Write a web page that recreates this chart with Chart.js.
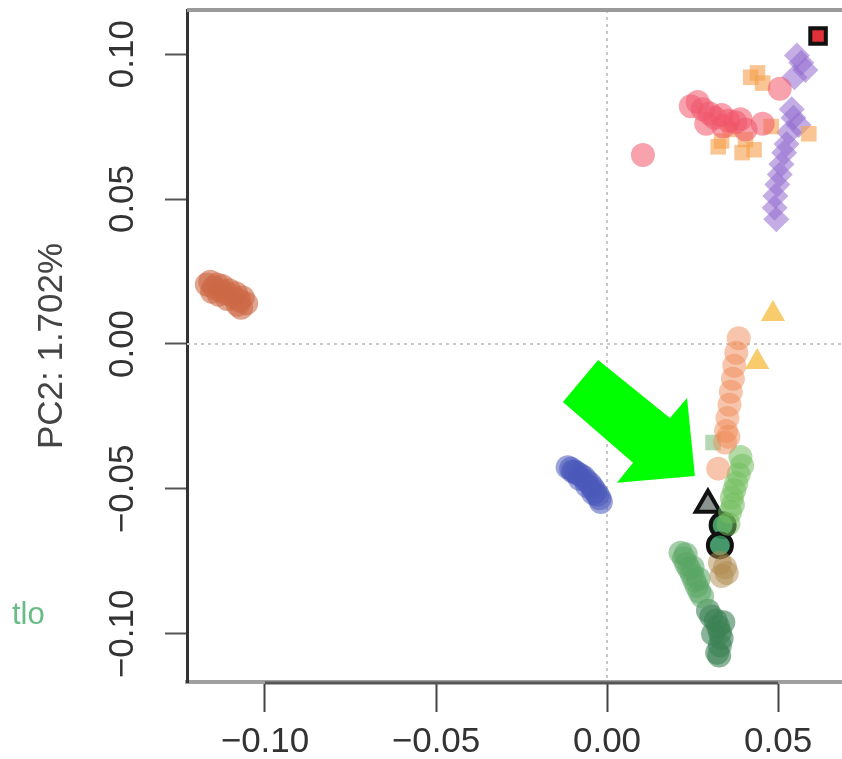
<!DOCTYPE html>
<html>
<head>
<meta charset="utf-8">
<script src="https://cdn.jsdelivr.net/npm/chart.js@4.4.0/dist/chart.umd.min.js"></script>
<style>
body { margin: 0; background: #fff; }
#wrap { width: 842px; height: 759px; position: relative; }
</style>
</head>
<body>
<div id="wrap"><canvas id="pca"></canvas></div>
<script>
// axis ticks / title
const xTicks = [-0.10, -0.05, 0.00, 0.05];
const yTicks = [-0.10, -0.05, 0.00, 0.05, 0.10];
const yTitle = 'PC2: 1.702%';
const sideText = 'tlo';

// point groups (PC1, PC2)
const brownX = [-0.1170, -0.1160, -0.1150, -0.1140, -0.1130, -0.1125, -0.1115, -0.1105, -0.1095, -0.1085, -0.1075, -0.1065, -0.1055, -0.1155, -0.1135, -0.1110, -0.1080, -0.1070];
const brownY = [0.0205, 0.0215, 0.0195, 0.0205, 0.0185, 0.0200, 0.0175, 0.0185, 0.0165, 0.0175, 0.0150, 0.0160, 0.0140, 0.0180, 0.0170, 0.0155, 0.0135, 0.0125];

const blueX = [-0.0115, -0.0105, -0.0095, -0.0088, -0.0078, -0.0068, -0.0060, -0.0050, -0.0042, -0.0035, -0.0028, -0.0022, -0.0018, -0.0100, -0.0080, -0.0058, -0.0040];
const blueY = [-0.0425, -0.0430, -0.0440, -0.0445, -0.0452, -0.0460, -0.0472, -0.0482, -0.0495, -0.0508, -0.0520, -0.0532, -0.0545, -0.0440, -0.0465, -0.0490, -0.0515];

const redX = [0.0105, 0.0245, 0.0265, 0.0280, 0.0300, 0.0315, 0.0335, 0.0355, 0.0375, 0.0390, 0.0405, 0.0455, 0.0505, 0.0290, 0.0340];
const redY = [0.0652, 0.0820, 0.0835, 0.0810, 0.0795, 0.0780, 0.0790, 0.0770, 0.0765, 0.0775, 0.0740, 0.0760, 0.0880, 0.0760, 0.0750];

const orangeX = [0.0420, 0.0440, 0.0455, 0.0325, 0.0335, 0.0430, 0.0590, 0.0480, 0.0405, 0.0360, 0.0395];
const orangeY = [0.0920, 0.0935, 0.0900, 0.0680, 0.0700, 0.0670, 0.0725, 0.0750, 0.0705, 0.0740, 0.0660];

const purpleX = [0.0555, 0.0568, 0.0580, 0.0548, 0.0540, 0.0545, 0.0532, 0.0525, 0.0518, 0.0510, 0.0505, 0.0498, 0.0492, 0.0490, 0.0495, 0.0560];
const purpleY = [0.0995, 0.0970, 0.0945, 0.0920, 0.0810, 0.0780, 0.0730, 0.0690, 0.0660, 0.0620, 0.0585, 0.0550, 0.0510, 0.0470, 0.0430, 0.0755];

const markedSqX = [0.0617];
const markedSqY = [0.1062];

const yellowX = [0.0485, 0.0439];
const yellowY = [0.0103, -0.0062];

const salmonX = [0.0385, 0.0378, 0.0372, 0.0368, 0.0362, 0.0358, 0.0352, 0.0348, 0.0345, 0.0355, 0.0325];
const salmonY = [0.0020, -0.0030, -0.0075, -0.0120, -0.0165, -0.0210, -0.0255, -0.0300, -0.0340, -0.0320, -0.0430];

const paleSqX = [0.0310];
const paleSqY = [-0.0340];

const lgreenX = [0.0390, 0.0395, 0.0385, 0.0378, 0.0372, 0.0365, 0.0368, 0.0360, 0.0355];
const lgreenY = [-0.0390, -0.0420, -0.0450, -0.0480, -0.0505, -0.0530, -0.0555, -0.0580, -0.0620];

const oliveX = [0.0330, 0.0345, 0.0335, 0.0350];
const oliveY = [-0.0755, -0.0770, -0.0800, -0.0790];

const mgreenX = [0.0215, 0.0225, 0.0232, 0.0240, 0.0248, 0.0255, 0.0262, 0.0270, 0.0278, 0.0230, 0.0250, 0.0268];
const mgreenY = [-0.0720, -0.0740, -0.0760, -0.0775, -0.0795, -0.0815, -0.0835, -0.0855, -0.0870, -0.0725, -0.0770, -0.0810];

const dgreenX = [0.0295, 0.0305, 0.0318, 0.0325, 0.0330, 0.0335, 0.0330, 0.0322, 0.0340, 0.0310, 0.0328];
const dgreenY = [-0.0920, -0.0940, -0.0955, -0.0975, -0.0995, -0.1015, -0.1040, -0.1065, -0.0960, -0.1000, -0.1075];

const markedTriX = [0.0295];
const markedTriY = [-0.0555];
const markedCircX = [0.0338, 0.0330];
const markedCircY = [-0.0625, -0.0695];

// green arrow annotation, in data units
const arrowX = [-0.0026, 0.0184, 0.0234, 0.0257, 0.0029, 0.0076, -0.0129];
const arrowY = [-0.0055, -0.0255, -0.0186, -0.0455, -0.0479, -0.0410, -0.0200];

function pts(xs, ys) {
    let out = [];
    for (let i = 0; i < xs.length; i++) {
        out.push({ x: xs[i], y: ys[i] });
    }
    return out;
}

function grp(xs, ys, color, style, border, bw) {
    let r = 12;
    if (style === 'triangle') r = 14;
    if (style === 'rect') r = 11;
    if (style === 'rectRot') r = 13;
    return {
        data: pts(xs, ys),
        backgroundColor: color,
        borderColor: border || color,
        borderWidth: bw || 0,
        pointStyle: style || 'circle',
        pointRadius: r,
    };
}

function noPad(s) {
    s.paddingTop = 0; s.paddingBottom = 0; s.paddingLeft = 0; s.paddingRight = 0;
}

const decor = {
    id: 'decor',
    beforeDatasetsDraw(chart) {
        const c = chart.ctx;
        const a = chart.chartArea;
        const xs = chart.scales.x, ys = chart.scales.y;
        c.save();
        c.strokeStyle = '#c8c8c8';
        c.lineWidth = 2;
        c.setLineDash([3, 4]);
        const x0 = xs.getPixelForValue(0);
        const y0 = ys.getPixelForValue(0);
        c.beginPath();
        c.moveTo(x0, a.top); c.lineTo(x0, a.bottom);
        c.moveTo(a.left, y0); c.lineTo(a.right, y0);
        c.stroke();
        c.restore();
    },
    afterDatasetsDraw(chart) {
        const c = chart.ctx;
        const a = chart.chartArea;
        const xs = chart.scales.x, ys = chart.scales.y;
        c.save();
        // box top
        c.strokeStyle = '#9a9a9a';
        c.lineWidth = 4;
        c.beginPath();
        c.moveTo(a.left, a.top); c.lineTo(a.right, a.top);
        c.stroke();
        // dark axis segment on bottom
        c.strokeStyle = '#555';
        c.lineWidth = 3;
        c.beginPath();
        c.moveTo(xs.getPixelForValue(xTicks[0]), a.bottom + 1);
        c.lineTo(xs.getPixelForValue(xTicks[xTicks.length - 1]), a.bottom + 1);
        c.stroke();
        // arrow
        c.fillStyle = '#00ff00';
        c.beginPath();
        for (let i = 0; i < arrowX.length; i++) {
            const px = xs.getPixelForValue(arrowX[i]);
            const py = ys.getPixelForValue(arrowY[i]);
            if (i === 0) c.moveTo(px, py); else c.lineTo(px, py);
        }
        c.closePath();
        c.fill();
        // fragment of neighbouring legend
        c.fillStyle = 'rgba(80,175,115,0.85)';
        c.font = '31px "Liberation Sans", Arial, sans-serif';
        c.textBaseline = 'middle';
        c.fillText(sideText, 12, 615);
        c.restore();
    }
};

const ctx = document.getElementById('pca').getContext('2d');
const chart = new Chart(ctx, {
    type: 'scatter',
    data: {
        datasets: [
            grp(brownX, brownY, 'rgba(205,105,70,0.6)'),
            grp(blueX, blueY, 'rgba(75,90,185,0.55)'),
            grp(redX, redY, 'rgba(240,85,105,0.55)'),
            grp(orangeX, orangeY, 'rgba(245,160,75,0.6)', 'rect'),
            grp(purpleX, purpleY, 'rgba(145,105,205,0.55)', 'rectRot'),
            grp(yellowX, yellowY, 'rgba(245,185,60,0.75)', 'triangle'),
            grp(salmonX, salmonY, 'rgba(240,140,90,0.5)'),
            grp(paleSqX, paleSqY, 'rgba(130,190,130,0.6)', 'rect'),
            grp(lgreenX, lgreenY, 'rgba(115,190,95,0.55)'),
            grp(oliveX, oliveY, 'rgba(175,140,80,0.5)'),
            grp(mgreenX, mgreenY, 'rgba(90,165,100,0.55)'),
            grp(dgreenX, dgreenY, 'rgba(60,130,85,0.6)'),
            grp(markedTriX, markedTriY, 'rgba(110,120,115,0.8)', 'triangle', '#111', 4),
            grp(markedCircX, markedCircY, 'rgba(50,140,90,0.9)', 'circle', '#111', 4),
            grp(markedSqX, markedSqY, '#e0303a', 'rect', '#111', 4),
        ]
    },
    options: {
        responsive: true,
        maintainAspectRatio: false,
        animation: false,
        layout: { autoPadding: false, padding: { top: 10, left: 0, right: 0, bottom: 0 } },
        plugins: { legend: { display: false }, tooltip: { enabled: false } },
        scales: {
            x: {
                min: -0.1228, max: 0.0687,
                afterBuildTicks: s => { s.ticks = xTicks.map(v => ({ value: v })); },
                afterFit: s => { s.height = 77; noPad(s); },
                grid: { drawOnChartArea: false, tickLength: 30, tickColor: '#444', tickWidth: 2 },
                border: { color: '#a0a0a0', width: 4 },
                ticks: {
                    padding: 9,
                    color: '#333',
                    font: { family: '"Liberation Sans", Arial, sans-serif', size: 35 },
                    maxRotation: 0,
                    callback: v => (v < 0 ? '\u2212' : '') + Math.abs(v).toFixed(2)
                }
            },
            y: {
                min: -0.1166, max: 0.1152,
                afterBuildTicks: s => { s.ticks = yTicks.map(v => ({ value: v })); },
                afterFit: s => { s.width = 187; noPad(s); },
                grid: { drawOnChartArea: false, tickLength: 22, tickColor: '#555', tickWidth: 2 },
                border: { color: '#333', width: 3 },
                title: {
                    display: true, text: yTitle, color: '#444',
                    font: { family: '"Liberation Sans", Arial, sans-serif', size: 35 },
                    padding: { top: 31, bottom: 0 }
                },
                ticks: {
                    padding: -3,
                    color: '#333',
                    minRotation: 90, maxRotation: 90,
                    crossAlign: 'center',
                    font: { family: '"Liberation Sans", Arial, sans-serif', size: 35 },
                    callback: v => (v < 0 ? '\u2212' : '') + Math.abs(v).toFixed(2)
                }
            }
        }
    },
    plugins: [decor]
});
</script>
</body>
</html>
